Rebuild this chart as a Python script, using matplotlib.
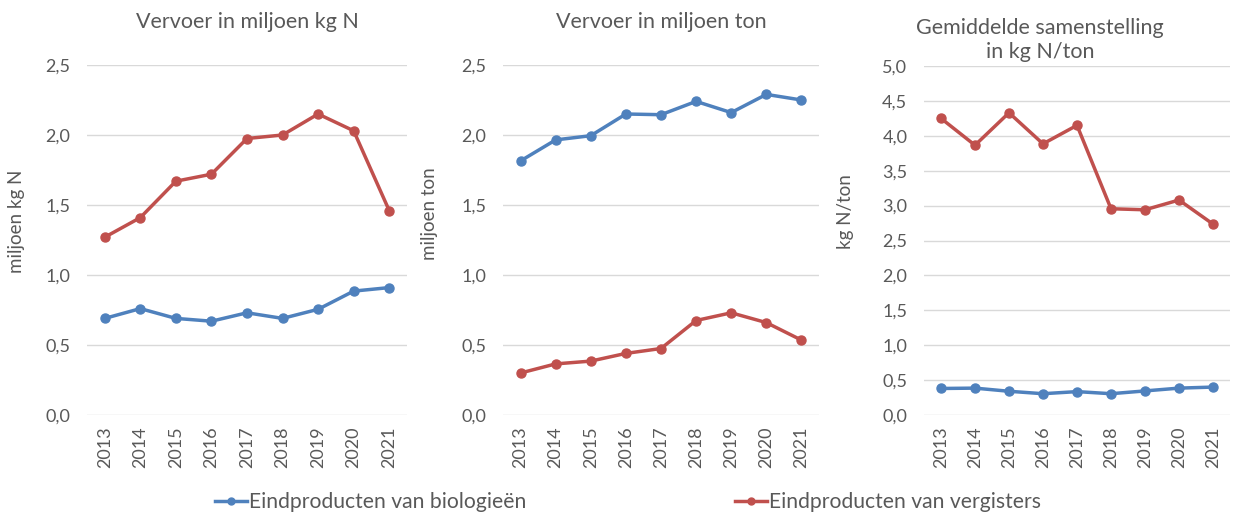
import numpy as np
import matplotlib.pyplot as plt
from matplotlib.lines import Line2D

plt.rcParams['font.family'] = ['Lato', 'DejaVu Sans']

years = ['2013', '2014', '2015', '2016', '2017', '2018', '2019', '2020', '2021']

# Vervoer in miljoen kg N
kgn_bio = [0.69, 0.76, 0.69, 0.67, 0.73, 0.69, 0.755, 0.885, 0.91]
kgn_verg = [1.27, 1.41, 1.67, 1.72, 1.975, 2.0, 2.15, 2.03, 1.46]

# Vervoer in miljoen ton
ton_bio = [1.815, 1.965, 1.995, 2.15, 2.145, 2.24, 2.16, 2.29, 2.25]
ton_verg = [0.30, 0.365, 0.385, 0.44, 0.475, 0.675, 0.73, 0.66, 0.535]

# Gemiddelde samenstelling in kg N/ton
comp_bio = [0.38, 0.385, 0.34, 0.305, 0.335, 0.305, 0.345, 0.385, 0.40]
comp_verg = [4.25, 3.865, 4.33, 3.885, 4.15, 2.955, 2.94, 3.08, 2.735]

blue = '#4F81BD'
red = '#C0504D'
text_col = '#595959'
grid_col = '#D9D9D9'

W, H = 1235, 512
fig = plt.figure(figsize=(W / 100, H / 100), dpi=100)


def px_axes(left, top, right, bottom):
    return fig.add_axes([left / W, 1 - bottom / H, (right - left) / W, (bottom - top) / H])


panels = [
    (px_axes(87, 65, 407, 415), kgn_bio, kgn_verg, 2.5, 'miljoen kg N', (17, 221)),
    (px_axes(503, 65, 819, 415), ton_bio, ton_verg, 2.5, 'miljoen ton', (430, 214)),
    (px_axes(924, 66, 1230, 415), comp_bio, comp_verg, 5.0, 'kg N/ton', (845, 212)),
]

x = np.arange(len(years))
for ax, bio, verg, ymax, ylab, (lx, ly) in panels:
    ax.plot(x, bio, color=blue, linewidth=2.5, marker='o', markersize=6.5)
    ax.plot(x, verg, color=red, linewidth=2.5, marker='o', markersize=6.5)
    ax.set_xlim(-0.5, len(years) - 0.5)
    ax.set_ylim(0, ymax)
    ax.set_yticks(np.arange(0, ymax + 0.01, 0.5))
    ax.set_yticklabels([f'{v:.1f}'.replace('.', ',') for v in np.arange(0, ymax + 0.01, 0.5)])
    ax.set_xticks(x)
    ax.set_xticklabels(years, rotation=90)
    ax.tick_params(length=0, labelsize=13, colors=text_col, pad=8)
    ax.tick_params(axis='y', pad=12)
    ax.grid(axis='y', color=grid_col, linewidth=1)
    ax.set_axisbelow(True)
    for s in ax.spines.values():
        s.set_visible(False)
    fig.text(lx / W, 1 - ly / H, ylab, rotation=90, ha='center', va='center',
             fontsize=13.5, color=text_col)

fig.text(247 / W, 1 - 22 / H, 'Vervoer in miljoen kg N', ha='center', va='center',
         fontsize=15.5, color=text_col)
fig.text(661 / W, 1 - 22 / H, 'Vervoer in miljoen ton', ha='center', va='center',
         fontsize=15.5, color=text_col)
fig.text(1040 / W, 1 - 40 / H, 'Gemiddelde samenstelling\nin kg N/ton', ha='center',
         va='center', fontsize=15.5, color=text_col, linespacing=1.2)

handles = [
    (Line2D([], [], color=blue, linewidth=2.5, marker='o', markersize=5),
     'Eindproducten van biologieën', 215),
    (Line2D([], [], color=red, linewidth=2.5, marker='o', markersize=5),
     'Eindproducten van vergisters', 735),
]
for h, lab, lx in handles:
    leg = fig.legend([h], [lab], loc='center left', bbox_to_anchor=(lx / W, 1 - 502 / H),
                     frameon=False, fontsize=15.2, handlelength=1.5, handletextpad=0.1,
                     borderpad=0, borderaxespad=0)
    for t in leg.get_texts():
        t.set_color(text_col)

fig.savefig('out.png', dpi=100)
